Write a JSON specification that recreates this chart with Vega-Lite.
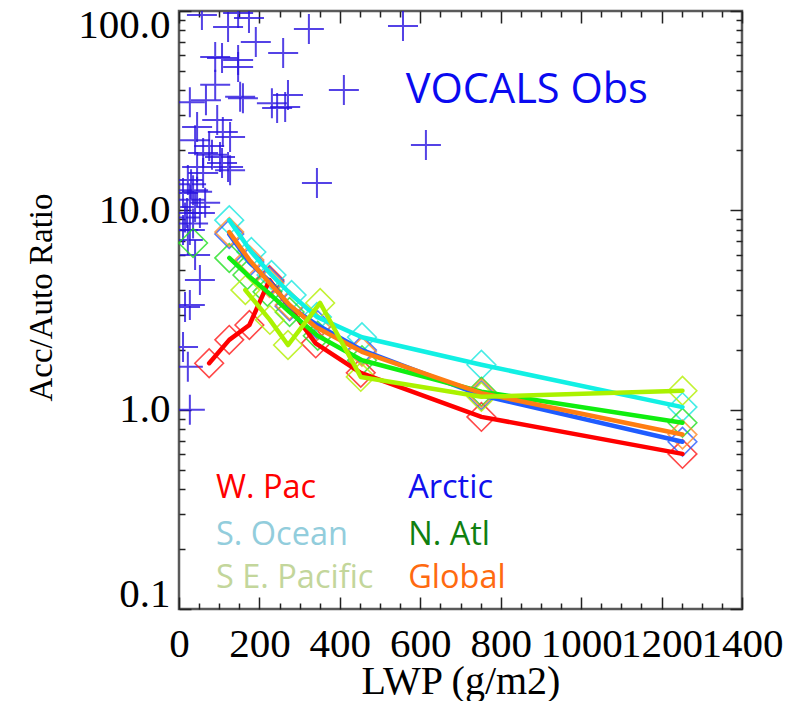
{
  "$schema": "https://vega.github.io/schema/vega-lite/v6.json",
  "width": 563,
  "height": 598,
  "autosize": "none",
  "padding": {"left": 179, "top": 11, "right": 46, "bottom": 92},
  "background": "white",
  "config": {"view": {"stroke": "#5a5a5a", "strokeWidth": 2.5}},
  "datasets": {
    "obs": [
      {"lwp": 57, "ratio": 95.5}, {"lwp": 122, "ratio": 83.2}, {"lwp": 174, "ratio": 92.2}, {"lwp": 147, "ratio": 97.7},
      {"lwp": 191, "ratio": 69.8}, {"lwp": 323, "ratio": 81.2}, {"lwp": 557, "ratio": 84.1}, {"lwp": 90, "ratio": 58.8},
      {"lwp": 107, "ratio": 58.1}, {"lwp": 147, "ratio": 56.7}, {"lwp": 147, "ratio": 52.4}, {"lwp": 259, "ratio": 61.5},
      {"lwp": 410, "ratio": 40.2}, {"lwp": 90, "ratio": 42.6}, {"lwp": 67, "ratio": 35.7}, {"lwp": 27, "ratio": 34.9},
      {"lwp": 152, "ratio": 37.1}, {"lwp": 159, "ratio": 36.5}, {"lwp": 231, "ratio": 34.5}, {"lwp": 244, "ratio": 32.6},
      {"lwp": 264, "ratio": 33.0}, {"lwp": 271, "ratio": 37.9}, {"lwp": 614, "ratio": 21.3}, {"lwp": 343, "ratio": 13.7},
      {"lwp": 45, "ratio": 26.2}, {"lwp": 95, "ratio": 28.4}, {"lwp": 109, "ratio": 24.7}, {"lwp": 127, "ratio": 23.3},
      {"lwp": 40, "ratio": 22.5}, {"lwp": 60, "ratio": 19.4}, {"lwp": 82, "ratio": 19.0}, {"lwp": 102, "ratio": 18.5},
      {"lwp": 107, "ratio": 17.3}, {"lwp": 122, "ratio": 16.5}, {"lwp": 127, "ratio": 15.9}, {"lwp": 45, "ratio": 16.5},
      {"lwp": 60, "ratio": 15.4}, {"lwp": 22, "ratio": 14.2}, {"lwp": 35, "ratio": 12.6}, {"lwp": 45, "ratio": 12.4},
      {"lwp": 10, "ratio": 12.2}, {"lwp": 27, "ratio": 11.3}, {"lwp": 40, "ratio": 10.4}, {"lwp": 20, "ratio": 9.7},
      {"lwp": 52, "ratio": 9.7}, {"lwp": 35, "ratio": 8.6}, {"lwp": 27, "ratio": 7.96}, {"lwp": 65, "ratio": 10.9},
      {"lwp": 52, "ratio": 4.47}, {"lwp": 27, "ratio": 3.35}, {"lwp": 15, "ratio": 3.27}, {"lwp": 10, "ratio": 2.06},
      {"lwp": 22, "ratio": 1.64}, {"lwp": 27, "ratio": 1.0}, {"lwp": 22, "ratio": 7.1}, {"lwp": 40, "ratio": 5.97},
      {"lwp": 10, "ratio": 7.96}, {"lwp": 15, "ratio": 9.2}, {"lwp": 30, "ratio": 13.5}, {"lwp": 75, "ratio": 21.0}
    ],
    "curves": [
      {"region": "W. Pac", "lwp": 75, "ratio": 1.71}, {"region": "W. Pac", "lwp": 125, "ratio": 2.24},
      {"region": "W. Pac", "lwp": 175, "ratio": 2.66}, {"region": "W. Pac", "lwp": 225, "ratio": 4.47},
      {"region": "W. Pac", "lwp": 340, "ratio": 2.15}, {"region": "W. Pac", "lwp": 452, "ratio": 1.53},
      {"region": "W. Pac", "lwp": 752, "ratio": 0.92}, {"region": "W. Pac", "lwp": 1252, "ratio": 0.60},
      {"region": "S. Ocean", "lwp": 125, "ratio": 8.93}, {"region": "S. Ocean", "lwp": 180, "ratio": 6.18},
      {"region": "S. Ocean", "lwp": 230, "ratio": 4.74}, {"region": "S. Ocean", "lwp": 280, "ratio": 3.76},
      {"region": "S. Ocean", "lwp": 343, "ratio": 2.92}, {"region": "S. Ocean", "lwp": 455, "ratio": 2.31},
      {"region": "S. Ocean", "lwp": 752, "ratio": 1.68}, {"region": "S. Ocean", "lwp": 1252, "ratio": 1.03},
      {"region": "Arctic", "lwp": 125, "ratio": 7.6}, {"region": "Arctic", "lwp": 175, "ratio": 5.5},
      {"region": "Arctic", "lwp": 225, "ratio": 4.4}, {"region": "Arctic", "lwp": 275, "ratio": 3.3},
      {"region": "Arctic", "lwp": 345, "ratio": 2.65}, {"region": "Arctic", "lwp": 455, "ratio": 1.99},
      {"region": "Arctic", "lwp": 752, "ratio": 1.18}, {"region": "Arctic", "lwp": 1252, "ratio": 0.69},
      {"region": "N. Atl", "lwp": 35, "ratio": 6.86}, {"region": "N. Atl", "lwp": 125, "ratio": 5.77},
      {"region": "N. Atl", "lwp": 170, "ratio": 4.74}, {"region": "N. Atl", "lwp": 220, "ratio": 3.9},
      {"region": "N. Atl", "lwp": 275, "ratio": 3.09}, {"region": "N. Atl", "lwp": 345, "ratio": 2.35},
      {"region": "N. Atl", "lwp": 455, "ratio": 1.77}, {"region": "N. Atl", "lwp": 752, "ratio": 1.23},
      {"region": "N. Atl", "lwp": 1252, "ratio": 0.86},
      {"region": "Global", "lwp": 125, "ratio": 7.78}, {"region": "Global", "lwp": 175, "ratio": 5.64},
      {"region": "Global", "lwp": 225, "ratio": 4.32}, {"region": "Global", "lwp": 275, "ratio": 3.35},
      {"region": "Global", "lwp": 340, "ratio": 2.6}, {"region": "Global", "lwp": 455, "ratio": 1.95},
      {"region": "Global", "lwp": 752, "ratio": 1.21}, {"region": "Global", "lwp": 1252, "ratio": 0.75},
      {"region": "S E. Pacific", "lwp": 165, "ratio": 3.98}, {"region": "S E. Pacific", "lwp": 226, "ratio": 2.82},
      {"region": "S E. Pacific", "lwp": 271, "ratio": 2.11}, {"region": "S E. Pacific", "lwp": 351, "ratio": 3.43},
      {"region": "S E. Pacific", "lwp": 452, "ratio": 1.46}, {"region": "S E. Pacific", "lwp": 752, "ratio": 1.16},
      {"region": "S E. Pacific", "lwp": 1252, "ratio": 1.245}
    ],
    "labels": [
      {"label": "W. Pac", "lwp": 92, "ratio": 0.3605},
      {"label": "Arctic", "lwp": 570, "ratio": 0.3605},
      {"label": "S. Ocean", "lwp": 92, "ratio": 0.2094},
      {"label": "N. Atl", "lwp": 570, "ratio": 0.2094},
      {"label": "S E. Pacific", "lwp": 92, "ratio": 0.1274},
      {"label": "Global", "lwp": 570, "ratio": 0.1274}
    ],
    "title": [{"label": "VOCALS Obs", "lwp": 564, "ratio": 34.5}]
  },
  "layer": [
    {
      "data": {"name": "obs"},
      "mark": {"type": "point", "shape": "M-1,0L1,0M0,-1L0,1", "filled": false, "size": 900, "strokeWidth": 2, "color": "#2a14e0", "opacity": 0.8, "clip": true},
      "encoding": {
        "x": {"field": "lwp", "type": "quantitative",
          "scale": {"domain": [0, 1400], "nice": false, "zero": false},
          "axis": {"orient": "bottom",
            "values": [0,50,100,150,200,250,300,350,400,450,500,550,600,650,700,750,800,850,900,950,1000,1050,1100,1150,1200,1250,1300,1350,1400],
            "format": "d",
            "labelExpr": "datum.value % 200 === 0 ? datum.label : ''",
            "tickSize": {"condition": {"test": "datum.value % 200 === 0", "value": -12}, "value": -6},
            "tickColor": "#222", "tickWidth": 1.5, "domain": false, "grid": false,
            "labelFont": "Liberation Serif", "labelFontSize": 41, "labelColor": "black",
            "labelBaseline": "alphabetic", "labelPadding": 59,
            "labelOverlap": false, "labelFlush": false, "labelBound": false,
            "title": "LWP (g/m2)", "titleFont": "Liberation Serif", "titleFontSize": 40, "titleFontWeight": "normal",
            "titleColor": "black", "titleBaseline": "alphabetic", "titleY": 84}},
        "y": {"field": "ratio", "type": "quantitative",
          "scale": {"type": "log", "domain": [0.1, 100], "nice": false},
          "axis": {"orient": "left",
            "values": [0.1,0.2,0.3,0.4,0.5,0.6,0.7,0.8,0.9,1,2,3,4,5,6,7,8,9,10,20,30,40,50,60,70,80,90,100],
            "labelExpr": "indexof([0.1,1,10,100], datum.value) >= 0 ? format(datum.value, '.1f') : ''",
            "tickSize": {"condition": {"test": "indexof([0.1,1,10,100], datum.value) >= 0", "value": -12}, "value": -6},
            "tickColor": "#222", "tickWidth": 1.5, "domain": false, "grid": false,
            "labelFont": "Liberation Serif", "labelFontSize": 41, "labelColor": "black",
            "labelPadding": 21, "labelOverlap": false, "labelFlush": true, "labelFlushOffset": 6, "labelBound": false,
            "title": "Acc/Auto Ratio", "titleFont": "Liberation Serif", "titleFontSize": 33, "titleFontWeight": "normal",
            "titleColor": "black", "titleBaseline": "alphabetic", "titleX": -128, "titleY": 286, "titleAngle": -90}}
      }
    },
    {
      "data": {"name": "curves"},
      "mark": {"type": "point", "shape": "diamond", "filled": false, "size": 820, "strokeWidth": 1.6, "opacity": 0.8},
      "encoding": {
        "x": {"field": "lwp", "type": "quantitative", "scale": {"domain": [0, 1400], "nice": false, "zero": false},
          "axis": {"orient": "top",
            "values": [0,50,100,150,200,250,300,350,400,450,500,550,600,650,700,750,800,850,900,950,1000,1050,1100,1150,1200,1250,1300,1350,1400],
            "labels": false, "domain": false, "grid": false, "title": null,
            "tickSize": {"condition": {"test": "datum.value % 200 === 0", "value": -12}, "value": -6},
            "tickColor": "#222", "tickWidth": 1.5}},
        "y": {"field": "ratio", "type": "quantitative", "scale": {"type": "log", "domain": [0.1, 100], "nice": false},
          "axis": {"orient": "right",
            "values": [0.1,0.2,0.3,0.4,0.5,0.6,0.7,0.8,0.9,1,2,3,4,5,6,7,8,9,10,20,30,40,50,60,70,80,90,100],
            "labels": false, "domain": false, "grid": false, "title": null,
            "tickSize": {"condition": {"test": "indexof([0.1,1,10,100], datum.value) >= 0", "value": -12}, "value": -6},
            "tickColor": "#222", "tickWidth": 1.5}},
        "color": {"field": "region", "type": "nominal", "legend": null,
          "scale": {"domain": ["W. Pac", "S. Ocean", "Arctic", "N. Atl", "Global", "S E. Pacific"],
            "range": ["#ff1a1a", "#19e8e0", "#2a5cff", "#22e022", "#ff8a2a", "#b4f000"]}}
      }
    },
    {
      "data": {"name": "curves"},
      "transform": [{"filter": "datum.lwp > 50 || datum.region == 'W. Pac'"}],
      "mark": {"type": "line", "strokeWidth": 4.5, "strokeJoin": "round", "strokeCap": "round"},
      "encoding": {
        "x": {"field": "lwp", "type": "quantitative", "scale": {"domain": [0, 1400], "nice": false, "zero": false}, "axis": null},
        "y": {"field": "ratio", "type": "quantitative", "scale": {"type": "log", "domain": [0.1, 100], "nice": false}, "axis": null},
        "color": {"field": "region", "type": "nominal", "legend": null,
          "scale": {"domain": ["W. Pac", "S. Ocean", "Arctic", "N. Atl", "Global", "S E. Pacific"],
            "range": ["#ff0000", "#12f0e4", "#1f5cff", "#10ee10", "#ff7d12", "#aaf200"]}}
      }
    },
    {
      "data": {"name": "labels"},
      "mark": {"type": "text", "align": "left", "baseline": "alphabetic", "font": "Open Sans", "fontSize": 32.5},
      "encoding": {
        "x": {"field": "lwp", "type": "quantitative", "scale": {"domain": [0, 1400], "nice": false, "zero": false}, "axis": null},
        "y": {"field": "ratio", "type": "quantitative", "scale": {"type": "log", "domain": [0.1, 100], "nice": false}, "axis": null},
        "text": {"field": "label"},
        "color": {"field": "label", "type": "nominal", "legend": null,
          "scale": {"domain": ["W. Pac", "Arctic", "S. Ocean", "N. Atl", "S E. Pacific", "Global"],
            "range": ["#ff0000", "#1010ee", "#92cddc", "#108010", "#c3d69b", "#ff6a10"]}}
      }
    },
    {
      "data": {"name": "title"},
      "mark": {"type": "text", "align": "left", "baseline": "alphabetic", "font": "Open Sans", "fontSize": 41.5, "color": "#0a0af0"},
      "encoding": {
        "x": {"field": "lwp", "type": "quantitative", "scale": {"domain": [0, 1400], "nice": false, "zero": false}, "axis": null},
        "y": {"field": "ratio", "type": "quantitative", "scale": {"type": "log", "domain": [0.1, 100], "nice": false}, "axis": null},
        "text": {"field": "label"}
      }
    }
  ],
  "resolve": {"scale": {"color": "independent"}, "axis": {"x": "independent", "y": "independent"}}
}
